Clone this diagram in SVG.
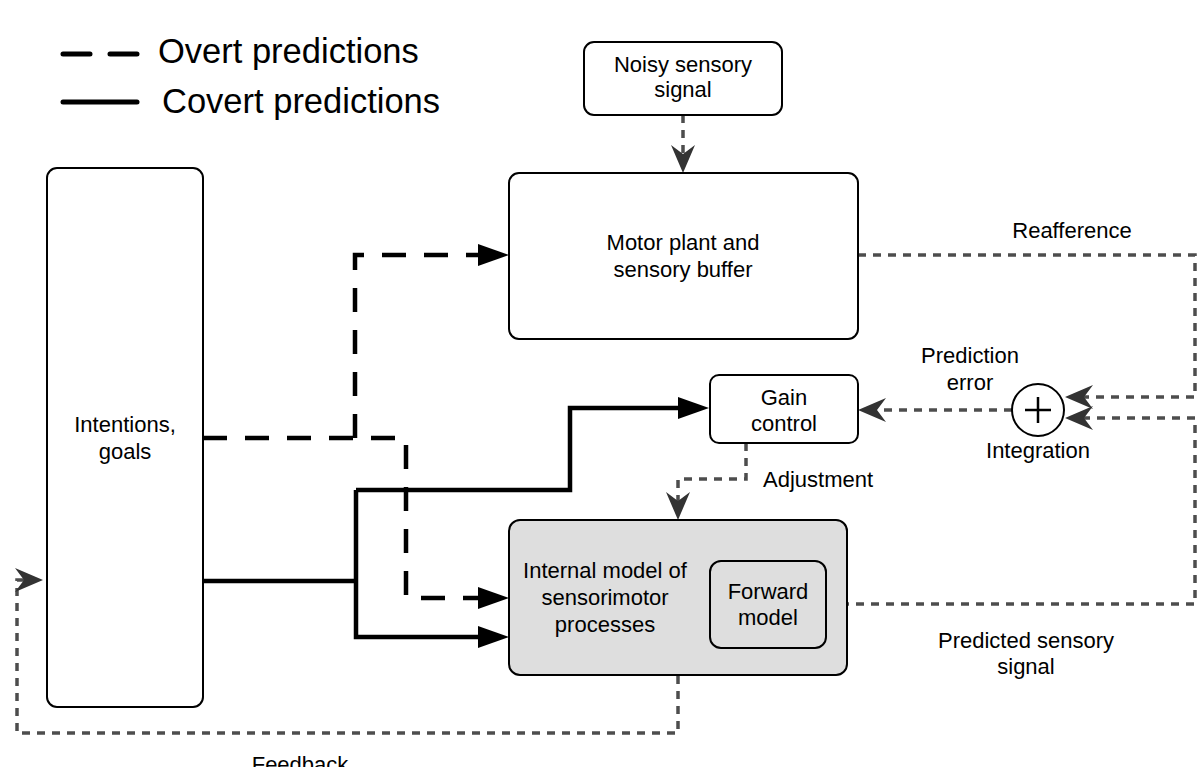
<svg xmlns="http://www.w3.org/2000/svg" width="1201" height="767" viewBox="0 0 1201 767">
<style>
text{font-family:"Liberation Sans",Arial,Helvetica,sans-serif;fill:#000}
.t{font-size:22px;text-anchor:middle}
.lg{font-size:34.5px}
.box{fill:#fff;stroke:#000;stroke-width:2}
.grey{fill:#dedede;stroke:#000;stroke-width:2}
.thick{fill:none;stroke:#000;stroke-width:4.5}
.dash{stroke-dasharray:24 18}
.dot{fill:none;stroke:#4d4d4d;stroke-width:3.5;stroke-dasharray:8 7}
</style>
<defs>
<marker id="tri" markerUnits="userSpaceOnUse" viewBox="-32 -12 32 24" markerWidth="32" markerHeight="24" refX="-20" refY="0" orient="auto">
<path d="M0,0 L-31,-11 L-31,11 Z" fill="#000"/>
</marker>
<marker id="chev" markerUnits="userSpaceOnUse" viewBox="-30 -13 30 26" markerWidth="30" markerHeight="26" refX="-12" refY="0" orient="auto">
<path d="M0,0 L-28,-12 L-19,0 L-28,12 Z" fill="#333"/>
</marker>
</defs>

<g id="legend">
<line x1="63" y1="54" x2="137" y2="54" class="thick" style="stroke-dasharray:27 20;stroke-linecap:round;stroke-width:5"/>
<text class="lg" x="158" y="63">Overt predictions</text>
<line x1="63" y1="102" x2="137" y2="102" class="thick" style="stroke-linecap:round;stroke-width:5"/>
<text class="lg" x="162" y="113">Covert predictions</text>
</g>

<g id="connectors">
<path class="thick dash" d="M203,438 H406 V598 H489" marker-end="url(#tri)"/>
<path class="thick dash" d="M355,438 V255 H489" marker-end="url(#tri)"/>
<path class="thick" d="M203,581 H356"/>
<path class="thick" d="M356,490 V637 H489" marker-end="url(#tri)"/>
<path class="thick" d="M356,490 H570 V408 H689" marker-end="url(#tri)"/>
<path class="dot" d="M683,115 V161" marker-end="url(#chev)"/>
<path class="dot" d="M858,255 H1195 V397 H1077" marker-end="url(#chev)"/>
<path class="dot" d="M826,604 H1195 V418 H1077" marker-end="url(#chev)"/>
<path class="dot" d="M1012,410 H870" marker-end="url(#chev)"/>
<path class="dot" d="M746,443 V479 H678 V508" marker-end="url(#chev)"/>
<path class="dot" d="M678,676 V733 H17 V580 H31" marker-end="url(#chev)"/>
</g>

<g id="noisy">
<rect class="box" x="584" y="42" width="198" height="73" rx="10"/>
<text class="t" x="683" y="72">Noisy sensory</text>
<text class="t" x="683" y="97">signal</text>
</g>

<g id="motor">
<rect class="box" x="509" y="173" width="349" height="166" rx="10"/>
<text class="t" x="683" y="250">Motor plant and</text>
<text class="t" x="683" y="277">sensory buffer</text>
</g>

<g id="intentions">
<rect class="box" x="47" y="168" width="156" height="539" rx="10"/>
<text class="t" x="125" y="432">Intentions,</text>
<text class="t" x="125" y="459">goals</text>
</g>

<g id="gain">
<rect class="box" x="710" y="375" width="148" height="68" rx="9"/>
<text class="t" x="784" y="405">Gain</text>
<text class="t" x="784" y="431">control</text>
</g>

<g id="internal">
<rect class="grey" x="509" y="520" width="338" height="155" rx="11"/>
<text class="t" x="605" y="578">Internal model of</text>
<text class="t" x="605" y="605">sensorimotor</text>
<text class="t" x="605" y="632">processes</text>
</g>

<g id="forward">
<rect class="grey" x="710" y="561" width="116" height="87" rx="11"/>
<text class="t" x="768" y="599">Forward</text>
<text class="t" x="768" y="625">model</text>
</g>

<g id="integration">
<circle cx="1038" cy="410" r="26" fill="#fff" stroke="#000" stroke-width="2"/>
<path d="M1025,410 H1051 M1038,397 V423" stroke="#000" stroke-width="2.5"/>
</g>

<g id="labels">
<text class="t" x="1072" y="238">Reafference</text>
<text class="t" x="970" y="363">Prediction</text>
<text class="t" x="970" y="390">error</text>
<text class="t" x="1038" y="458">Integration</text>
<text x="763" y="487" style="font-size:22px">Adjustment</text>
<text class="t" x="1026" y="648">Predicted sensory</text>
<text class="t" x="1026" y="674">signal</text>
<text class="t" x="300" y="772">Feedback</text>
</g>
</svg>
